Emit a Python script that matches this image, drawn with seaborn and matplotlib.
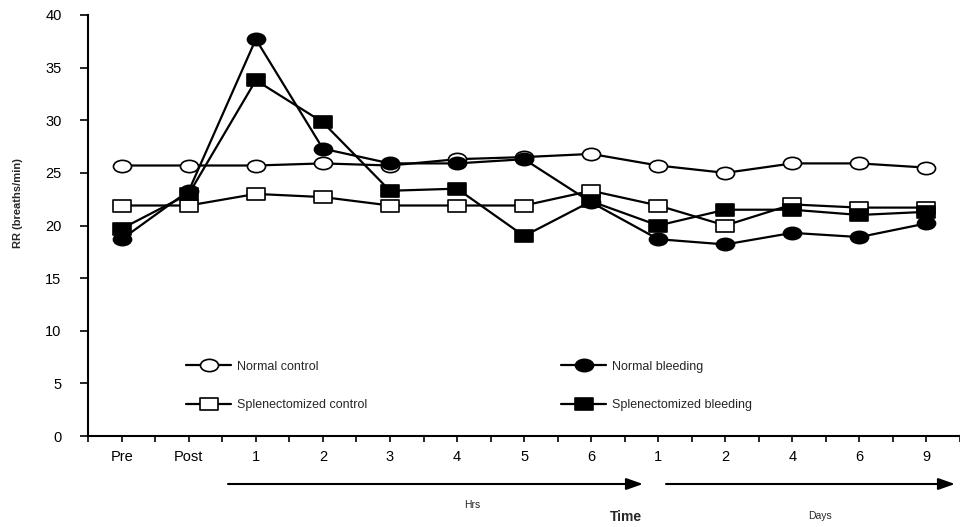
import matplotlib
matplotlib.use("Agg")
import matplotlib.pyplot as plt
from matplotlib.path import Path
from matplotlib.lines import Line2D
import numpy as np
import pandas as pd
import seaborn as sns

# ---- data ----
time_labels = ['Pre', 'Post', '1', '2', '3', '4', '5', '6', '1', '2', '4', '6', '9']
normal_control = [25.7, 25.7, 25.7, 25.9, 25.7, 26.3, 26.5, 26.8, 25.7, 25.0, 25.9, 25.9, 25.5]
normal_bleeding = [18.7, 23.3, 37.7, 27.3, 25.9, 25.9, 26.3, 22.2, 18.7, 18.2, 19.3, 18.9, 20.2]
spl_control = [21.9, 21.9, 23.0, 22.7, 21.9, 21.9, 21.9, 23.3, 21.9, 20.0, 22.0, 21.7, 21.7]
spl_bleeding = [19.7, 23.0, 33.8, 29.8, 23.3, 23.5, 19.0, 22.3, 20.0, 21.5, 21.5, 21.0, 21.3]
series_names = ['Normal control', 'Splenectomized control', 'Normal bleeding', 'Splenectomized bleeding']
y_ticks = [0, 5, 10, 15, 20, 25, 30, 35, 40]

sns.set_style('ticks')
plt.rcParams['font.family'] = ['Liberation Sans', 'DejaVu Sans']

W, H = 960, 527
fig = plt.figure(figsize=(W / 100, H / 100), dpi=100)
x0 = 122.0
step = 67.6
left_px, right_px = 88.0, 960.0
xmin = (left_px - x0) / step
xmax = (right_px - x0) / step
ax = fig.add_axes([left_px / W, 1 - 436 / H, (right_px - left_px) / W, (436 - 15) / H])

# custom elliptical / rectangular markers
circ = Path.unit_circle()
ell = Path(circ.vertices * np.array([1.0, 0.68]), circ.codes)
rect = Path(np.array([[-1, -0.68], [1, -0.68], [1, 0.68], [-1, 0.68], [-1, -0.68]]),
            [Path.MOVETO, Path.LINETO, Path.LINETO, Path.LINETO, Path.CLOSEPOLY])

xpos = np.arange(len(time_labels))
df = pd.DataFrame({
    'x': np.tile(xpos, 4),
    'y': normal_control + spl_control + normal_bleeding + spl_bleeding,
    'series': np.repeat(series_names, len(time_labels)),
})

styles = {
    'Normal control': dict(marker=ell, markerfacecolor='white'),
    'Splenectomized control': dict(marker=rect, markerfacecolor='white'),
    'Normal bleeding': dict(marker=ell, markerfacecolor='black'),
    'Splenectomized bleeding': dict(marker=rect, markerfacecolor='black'),
}
common = dict(color='black', linewidth=1.6, markersize=13, markeredgecolor='black',
              markeredgewidth=1.2)

handles = []
for name in series_names:
    sub = df[df['series'] == name]
    sns.lineplot(data=sub, x='x', y='y', ax=ax, errorbar=None, legend=False,
                 **common, **styles[name])
    handles.append(Line2D([], [], **common, **styles[name], label=name))

ax.set_xlim(xmin, xmax)
ax.set_ylim(0, 40)
ax.set_yticks(y_ticks)
ax.set_xticks(xpos)
ax.set_xticklabels(time_labels)
ax.set_xticks(np.arange(-0.5, len(time_labels), 1.0), minor=True)
ax.set_xlabel('')
ax.set_ylabel('')
for s in ['top', 'right']:
    ax.spines[s].set_visible(False)
for s in ['left', 'bottom']:
    ax.spines[s].set_linewidth(1.5)
    ax.spines[s].set_color('black')
ax.spines['bottom'].set_clip_on(False)
ax.tick_params(axis='x', which='both', direction='out', length=4, width=1.2, colors='black',
               labelsize=10.5, pad=6)
ax.tick_params(axis='y', which='both', direction='out', length=6, width=1.2, colors='black',
               labelsize=10.5, pad=13)

leg = ax.legend(handles=handles, ncol=2, loc='center left',
                bbox_to_anchor=(186 / W, 1 - 386 / H), bbox_transform=fig.transFigure,
                frameon=False, fontsize=9, borderpad=0, borderaxespad=0,
                handlelength=3.6, handletextpad=0.5, labelspacing=2.15, columnspacing=15.5)

fig.text(18 / W, 1 - 203 / H, 'RR (breaths/min)', rotation=90, ha='center', va='center',
         fontsize=8, fontweight='bold')

# time arrows
arrow_kw = dict(arrowstyle='-|>,head_length=1.0,head_width=0.35', color='black', lw=1.5,
                shrinkA=0, shrinkB=0, mutation_scale=10)
ay = H - 484
ax.annotate('', xy=(643, ay), xytext=(228, ay), xycoords='figure pixels',
            textcoords='figure pixels', arrowprops=arrow_kw, annotation_clip=False)
ax.annotate('', xy=(955, ay), xytext=(666, ay), xycoords='figure pixels',
            textcoords='figure pixels', arrowprops=arrow_kw, annotation_clip=False)

fig.text(472 / W, 1 - 505 / H, 'Hrs', ha='center', va='center', fontsize=7.5)
fig.text(820 / W, 1 - 516 / H, 'Days', ha='center', va='center', fontsize=7.5)
fig.text(626 / W, 1 - 517 / H, 'Time', ha='center', va='center', fontsize=10,
         fontweight='bold')

fig.savefig('out.png', dpi=100)
